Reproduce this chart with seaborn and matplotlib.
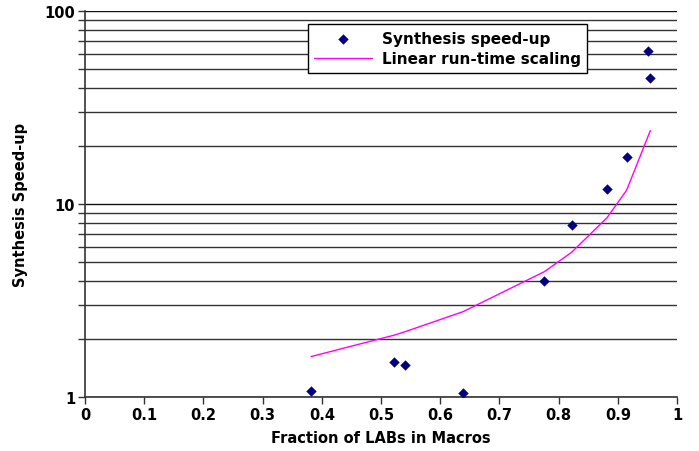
import matplotlib
matplotlib.use("Agg")
import matplotlib.pyplot as plt
import seaborn as sns
import pandas as pd
from matplotlib.ticker import LogLocator, NullFormatter

frac_points = [0.382, 0.522, 0.541, 0.639, 0.776, 0.822, 0.882, 0.915, 0.951, 0.955]
speedup = [1.08, 1.51, 1.47, 1.05, 4.0, 7.8, 11.9, 17.5, 62, 45]

frac_line = [0.382, 0.522, 0.541, 0.639, 0.776, 0.822, 0.882, 0.915, 0.955]
linear_scaling = [1.62, 2.09, 2.18, 2.77, 4.46, 5.62, 8.5, 11.8, 24.0]

x_ticks = [0, 0.1, 0.2, 0.3, 0.4, 0.5, 0.6, 0.7, 0.8, 0.9, 1]
x_labels = ["0", "0.1", "0.2", "0.3", "0.4", "0.5", "0.6", "0.7", "0.8", "0.9", "1"]

sns.set_theme(style="white")
plt.rcParams["font.family"] = ["DejaVu Sans"]
plt.rcParams["font.weight"] = "bold"
plt.rcParams["text.color"] = "black"
plt.rcParams["axes.labelcolor"] = "black"
plt.rcParams["xtick.color"] = "black"
plt.rcParams["ytick.color"] = "black"

fig = plt.figure(figsize=(6.99, 4.52), dpi=100)
ax = fig.add_axes([0.1216, 0.1195, 0.8469, 0.854])

df_pts = pd.DataFrame({"x": frac_points, "y": speedup})
df_line = pd.DataFrame({"x": frac_line, "y": linear_scaling})

ax.set_yscale("log")
ax.set_ylim(1, 100)
ax.set_xlim(0, 1)

ax.yaxis.set_major_locator(LogLocator(base=10))
ax.yaxis.set_minor_locator(LogLocator(base=10, subs=range(2, 10)))
ax.yaxis.set_minor_formatter(NullFormatter())
ax.grid(True, axis="y", which="major", color="#111111", linewidth=1.0, zorder=0)
ax.grid(True, axis="y", which="minor", color="#333333", linewidth=1.0, zorder=0)

sns.lineplot(data=df_line, x="x", y="y", ax=ax, color="#FF00FF", linewidth=1.0,
             label="Linear run-time scaling", zorder=3)
sns.scatterplot(data=df_pts, x="x", y="y", ax=ax, marker="D", color="#000080",
                s=28, edgecolor="#000080", linewidth=0, label="Synthesis speed-up", zorder=4)

ax.set_xticks(x_ticks)
ax.set_xticklabels(x_labels)
ax.set_yticks([1, 10, 100])
ax.set_yticklabels(["1", "10", "100"])

for s in ["top", "right"]:
    ax.spines[s].set_visible(False)
for s in ["left", "bottom"]:
    ax.spines[s].set_color("#333333")
    ax.spines[s].set_linewidth(1.2)

ax.tick_params(axis="both", which="major", direction="out", length=5, width=1,
               color="#333333", labelcolor="black", labelsize=10.5,
               bottom=True, left=True, pad=2)
ax.tick_params(axis="y", which="minor", direction="out", length=5, width=1,
               color="#333333", left=True)
for lab in ax.get_xticklabels() + ax.get_yticklabels():
    lab.set_fontweight("bold")

ax.set_xlabel("Fraction of LABs in Macros", fontsize=10.5, fontweight="bold",
              labelpad=6, color="black")
ax.set_ylabel("Synthesis Speed-up", fontsize=10.5, fontweight="bold",
              labelpad=12, color="black")

handles, labels = ax.get_legend_handles_labels()
order = [labels.index("Synthesis speed-up"), labels.index("Linear run-time scaling")]
leg = ax.legend([handles[i] for i in order], [labels[i] for i in order],
                loc="upper left", bbox_to_anchor=(0.363, 0.985), frameon=True,
                fancybox=False, edgecolor="black", framealpha=1,
                prop={"weight": "bold", "size": 11}, handlelength=3.8,
                borderpad=0.45, labelspacing=0.32, handletextpad=0.6)
leg.get_frame().set_linewidth(1.0)
for t in leg.get_texts():
    t.set_color("black")

fig.savefig("out.png", dpi=100)
